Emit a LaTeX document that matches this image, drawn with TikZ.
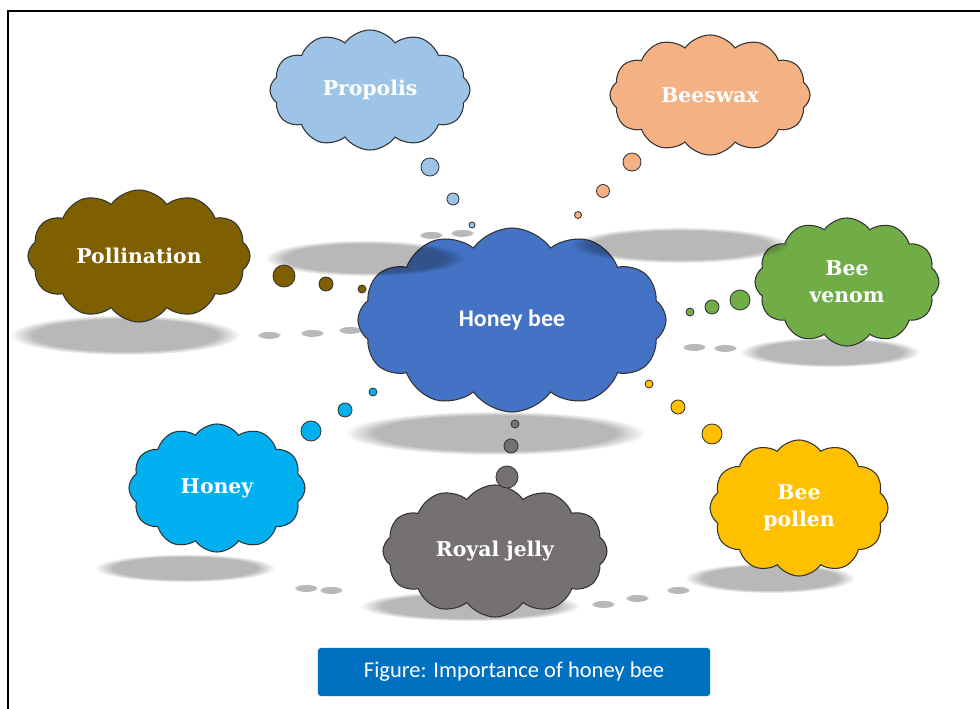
\documentclass[tikz,border=0pt]{standalone}
\usepackage{fontspec}
\setmainfont{Carlito}
\newfontfamily\cloudfont{DejaVu Serif}
\usetikzlibrary{shapes.symbols}
\usetikzlibrary{fadings}
\definecolor{cpropolis}{HTML}{9DC3E6}
\definecolor{cbeeswax}{HTML}{F4B183}
\definecolor{cpollin}{HTML}{7F6000}
\definecolor{cvenom}{HTML}{70AD47}
\definecolor{chbee}{HTML}{4472C4}
\definecolor{choney}{HTML}{00B0F0}
\definecolor{croyal}{HTML}{767171}
\definecolor{cpollen}{HTML}{FFC000}
\definecolor{ccaption}{HTML}{0070C0}
\tikzset{puff/.style = {cloud, cloud puffs=12, cloud puff arc=110, cloud ignores aspect,
                        draw=black!80, line width=0.75pt, text=white, align=center,
                        font=\cloudfont\bfseries\fontsize{14.5}{19}\selectfont},
         bubble/.style = {draw=black!80, line width=0.6pt},
         dropshade/.style = {fill=black, fill opacity=0.28,
                             path fading=circle with fuzzy edge 20 percent}}

\begin{document}
\begin{tikzpicture}[x=0.025cm, y=-0.025cm]
    \useasboundingbox (0,0) rectangle (980,709);
    \draw [line width=1.4pt] (8,709) -- (8,11) -- (980,11);
    % shadows under the clouds and bubbles
    \foreach \cx/\cy/\rx/\ry in {125/335/115/20, 830/352/90/15, 495/433/150/22,
                                 185/568/90/14, 470/606/110/15, 770/578/85/15} {
      \fill [dropshade] (\cx, \cy) ellipse [x radius=\rx, y radius=\ry];
    }
    \foreach \cx/\cy in {269/335, 312/333, 350/330, 694/347, 725/348, 306/588,
                         331/590, 603/604, 637/598, 678/590, 431/235, 462/233} {
      \fill [dropshade] (\cx, \cy) ellipse [x radius=12, y radius=4];
    }
    % clouds
    \node [puff, fill=cpropolis, minimum width=5cm, minimum height=3cm] (propolis) at (370, 90) {Propolis};
    \node [puff, fill=cbeeswax, minimum width=5cm, minimum height=3cm] (beeswax) at (710, 95) {Beeswax};
    \node [puff, fill=cpollin, minimum width=5.55cm, minimum height=3.3cm] (pollin) at (139, 256) {Pollination};
    \node [puff, fill=cvenom, minimum width=4.6cm, minimum height=3.2cm] (venom) at (847, 282) {Bee\\venom};
    \node [puff, fill=chbee, minimum width=7.7cm, minimum height=4.6cm,
           font=\bfseries\fontsize{17}{20}\selectfont] (hbee) at (512, 320) {Honey bee};
    \node [puff, fill=choney, minimum width=4.4cm, minimum height=3.2cm] (honey) at (217, 488) {Honey};
    \node [puff, fill=croyal, minimum width=5.6cm, minimum height=3.3cm] (royal) at (495, 551) {Royal jelly};
    \node [puff, fill=cpollen, minimum width=4.45cm, minimum height=3.4cm] (pollen) at (799, 508) {Bee\\pollen};
    % these two fall over the honey bee cloud
    \fill [dropshade] (365, 258) ellipse [x radius=100, y radius=18];
    \fill [dropshade] (680, 245) ellipse [x radius=110, y radius=18];
    % thought bubbles
    \foreach \cx/\cy/\r/\col in {430/167/9/cpropolis, 453/199/6/cpropolis, 472/225/3/cpropolis,
                                 632/162/9/cbeeswax, 603/191/6.5/cbeeswax, 578/215/3.5/cbeeswax,
                                 284/276/11/cpollin, 326/284/7/cpollin, 362/289/4/cpollin,
                                 740/300/10/cvenom, 712/307/7/cvenom, 690/312/4/cvenom,
                                 311/431/10/choney, 345/410/7/choney, 373/392/4/choney,
                                 507/477/11/croyal, 511/446/7/croyal, 515/424/4/croyal,
                                 712/434/10/cpollen, 678/407/7/cpollen, 649/384/4/cpollen} {
      \draw [bubble, fill=\col] (\cx, \cy) circle (\r);
    }
    % caption
    \node [fill=ccaption, text=white, rounded corners=2pt, minimum width=9.8cm,
           minimum height=1.2cm, font=\fontsize{16}{19}\selectfont] (caption) at (514, 672)
          {Figure: Importance of honey bee};
\end{tikzpicture}
\end{document}
